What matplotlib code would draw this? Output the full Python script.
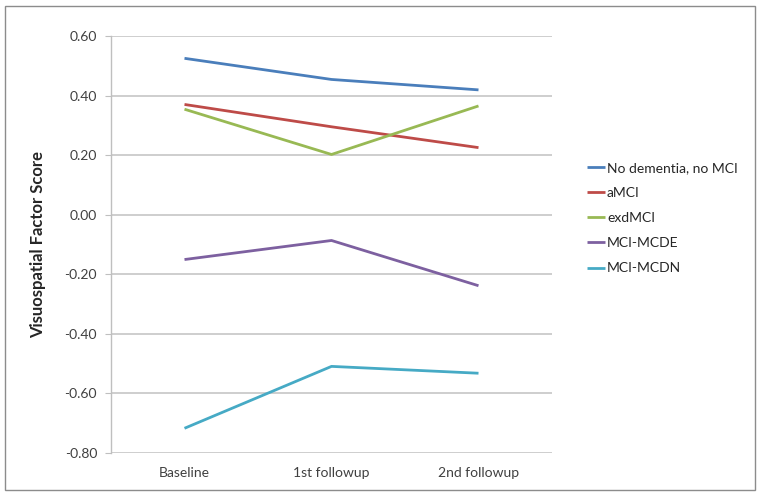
#!/usr/bin/env python3
import matplotlib
matplotlib.use('Agg')
import matplotlib.pyplot as plt
from matplotlib.patches import Rectangle

plt.rcParams['font.family'] = ['Lato', 'DejaVu Sans']

# Data
visits = ['Baseline', '1st followup', '2nd followup']
groups = ['No dementia, no MCI', 'aMCI', 'exdMCI', 'MCI-MCDE', 'MCI-MCDN']
no_dementia = [0.525, 0.454, 0.419]
amci = [0.370, 0.295, 0.225]
exdmci = [0.354, 0.202, 0.365]
mci_mcde = [-0.151, -0.087, -0.239]
mci_mcdn = [-0.718, -0.510, -0.533]
yticks = [0.60, 0.40, 0.20, 0.00, -0.20, -0.40, -0.60, -0.80]

colors = ['#4A7EBB', '#BE4B48', '#98B954', '#7D60A0', '#46AAC5']
series = [no_dementia, amci, exdmci, mci_mcde, mci_mcdn]

fig = plt.figure(figsize=(7.62, 4.97), dpi=100)
# outer chart border
fig.patches.append(Rectangle((5 / 762, 1 - 490 / 497), 750 / 762, 484 / 497,
                             transform=fig.transFigure, fill=False,
                             edgecolor='#8c8c8c', linewidth=1.0))

ax = fig.add_axes([111 / 762, 1 - 452.7 / 497, 441 / 762, (452.7 - 36) / 497])
x = range(len(visits))
for name, vals, c in zip(groups, series, colors):
    ax.plot(x, vals, color=c, linewidth=2.0, label=name, solid_capstyle='butt')

ax.set_xlim(-0.5, 2.5)
ax.set_ylim(-0.80, 0.60)
ax.set_yticks(yticks)
ax.set_yticklabels([f'{v:.2f}' for v in yticks], fontsize=10, color='#404040')
ax.set_xticks(list(x))
ax.set_xticklabels(visits, fontsize=10, color='#404040')
ax.tick_params(axis='x', length=0, pad=10)
ax.tick_params(axis='y', length=4, color='#bfbfbf', pad=6)
ax.grid(axis='y', color='#c6c6c6', linewidth=1.2)
ax.set_axisbelow(True)
for s in ['top', 'right', 'bottom']:
    ax.spines[s].set_visible(False)
ax.spines['left'].set_color('#bfbfbf')
ax.spines['left'].set_linewidth(1.0)

ax.set_ylabel('Visuospatial Factor Score', fontsize=12, fontweight='bold',
              color='#262626', labelpad=13)

ax.legend(loc='center left', bbox_to_anchor=(1.079, 0.563), frameon=False,
          fontsize=10, handlelength=1.3, handletextpad=0.15, labelspacing=0.95,
          borderpad=0, borderaxespad=0, labelcolor='#262626')

fig.savefig('out.png', dpi=100)
